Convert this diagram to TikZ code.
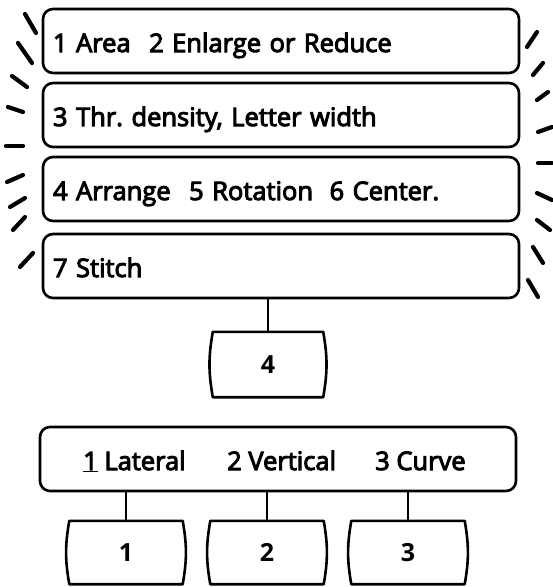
\documentclass[tikz,border=0pt]{standalone}
\usepackage{fontspec}
\setmainfont{Open Sans}
\frenchspacing
\newcommand\hv[1]{\special{pdf:literal direct 2 Tr 1.0 w}#1\special{pdf:literal direct 0 Tr}}
\begin{document}
\begin{tikzpicture}[x=1pt,y=-1pt,
  outline/.style={line width=2.6pt},
  bar/.style={outline, draw, rounded corners=10pt, minimum height=64pt,
    inner xsep=10pt, inner ysep=0pt, text width=456pt, align=left,
    text height=22pt, text depth=0pt, font=\fontsize{25.5}{28}\selectfont},
  wide/.style={outline, draw, rounded corners=10pt, minimum width=476pt,
    minimum height=64pt, inner sep=0pt},
  lbl/.style={anchor=base west, inner sep=0pt, font=\fontsize{25.5}{28}\selectfont},
  keybox/.style={minimum width=113pt, minimum height=63pt, inner sep=0pt,
    font=\fontsize{25}{28}\selectfont\bfseries},
  bulge/.style={outline, line join=round},
  wire/.style={line width=2.2pt},
  ray/.style={line width=4.2pt, line cap=round}]
\useasboundingbox (0,0) rectangle (553,587);

% top stack
\node[bar] (b1) at (281,41) {\hv{1 Area\hspace{10pt} 2 Enlarge or Reduce}};
\node[bar] (b2) at (281,115) {\hv{3 Thr. density, Letter width}};
\node[bar] (b3) at (281,189) {\hv{4 Arrange\hspace{10pt} 5 Rotation\hspace{8pt} 6 Center.}};
\node[bar] (b4) at (281,266) {\hv{7 Stitch}};

% rays
\foreach \a/\b/\c/\d in {25/14/36/33, 18/43/32/63, 12/76/27/87, 8/107/23/112,
  6/146/23/146, 7/182/23/175, 10/207/25/198, 13/230/25/217, 20/267/33/253,
  537/32/527/47, 543/63/533/75, 548/92/537/100, 552/127/538/132,
  552/163/538/163, 537/193/552/200, 537/220/550/230, 533/247/543/263,
  528/280/538/297}
  \draw[ray] (\a,\b) -- (\c,\d);

% key 4
\node[keybox, minimum width=110pt, minimum height=65pt] (k4) at (268,364.5) {4};

% wide box
\node[wide] (w) at (278,459) {};
\node[lbl] (t1) at (83,470) {\hv{\underline{1} Lateral}};
\node[lbl] (t2) at (227,470) {\hv{2 Vertical}};
\node[lbl] (t3) at (375,470) {\hv{3 Curve}};

% keys 1-3
\node[keybox] (k1) at (126,552.5) {1};
\node[keybox] (k2) at (267,552.5) {2};
\node[keybox] (k3) at (408,552.5) {3};

\foreach \n in {k4,k1,k2,k3}
  \draw[bulge] (\n.north west) -- (\n.north east) to[bend left=10] (\n.south east)
    -- (\n.south west) to[bend left=10] cycle;

% connectors
\draw[wire] (b4.south -| k4.north) -- (k4.north);
\draw[wire] (k1.north |- w.south) -- (k1.north);
\draw[wire] (k2.north |- w.south) -- (k2.north);
\draw[wire] (k3.north |- w.south) -- (k3.north);
\end{tikzpicture}
\end{document}
